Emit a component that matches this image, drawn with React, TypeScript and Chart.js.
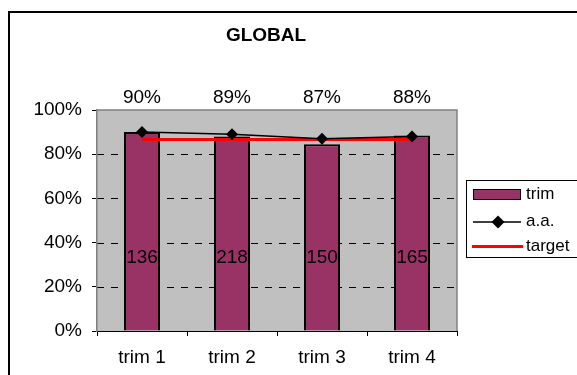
import React, { useEffect, useRef } from "react";
import { Chart, registerables } from "chart.js";

Chart.register(...registerables);

const categories = ["trim 1", "trim 2", "trim 3", "trim 4"];
const trimValues = [0.9, 0.88, 0.845, 0.885];
const aaValues = [0.9, 0.89, 0.87, 0.88];
const targetValues = [0.867, 0.867, 0.867, 0.867];
const counts = [136, 218, 150, 165];
const yTicks = [0, 0.2, 0.4, 0.6, 0.8, 1];
const title = "GLOBAL";
const FONT = "'Liberation Sans', Arial, sans-serif";
const BAR = "#993366";

const decor = {
  id: "decor",
  beforeDraw(chart: any) {
    const { ctx, chartArea: a } = chart;
    ctx.save();
    ctx.fillStyle = "#fff";
    ctx.fillRect(0, 0, chart.width, chart.height);
    ctx.strokeStyle = "#000";
    ctx.lineWidth = 2;
    ctx.strokeRect(9, 12, 700, 500);
    ctx.fillStyle = "#c0c0c0";
    ctx.fillRect(a.left, a.top, a.right - a.left, a.bottom - a.top);
    const y = chart.scales.y;
    ctx.strokeStyle = "#000";
    ctx.lineWidth = 1;
    ctx.setLineDash([7, 7]);
    yTicks.forEach((v) => {
      if (v <= 0 || v >= 1) return;
      const py = Math.round(y.getPixelForValue(v)) + 0.5;
      ctx.beginPath();
      ctx.moveTo(a.left, py);
      ctx.lineTo(a.right, py);
      ctx.stroke();
    });
    ctx.setLineDash([]);
    ctx.strokeStyle = "#808080";
    ctx.lineWidth = 1.5;
    ctx.beginPath();
    ctx.moveTo(a.left, a.top);
    ctx.lineTo(a.right, a.top);
    ctx.lineTo(a.right, a.bottom);
    ctx.stroke();
    ctx.restore();
  },
  afterDraw(chart: any) {
    const { ctx } = chart;
    const x = chart.scales.x;
    const y = chart.scales.y;
    ctx.save();
    ctx.fillStyle = "#000";
    ctx.textAlign = "center";
    ctx.textBaseline = "middle";
    ctx.font = `bold 19px ${FONT}`;
    ctx.fillText(title, 266, 36);
    ctx.font = `19px ${FONT}`;
    categories.forEach((c, i) => {
      const px = x.getPixelForValue(i);
      ctx.fillText(Math.round(aaValues[i] * 100) + "%", px, 98);
      ctx.fillText(String(counts[i]), px, y.getPixelForValue(0.33));
    });
    // legend
    const lx = 466, ly = 180, lw = 112, lh = 77;
    ctx.strokeStyle = "#000";
    ctx.lineWidth = 1;
    ctx.strokeRect(lx + 0.5, ly + 0.5, lw, lh);
    ctx.textAlign = "left";
    ctx.font = `17px ${FONT}`;
    // trim
    ctx.fillStyle = BAR;
    ctx.fillRect(473, 189, 47, 10);
    ctx.strokeRect(473.5, 189.5, 47, 10);
    ctx.fillStyle = "#000";
    ctx.fillText("trim", 526, 194);
    // a.a.
    ctx.lineWidth = 1.5;
    ctx.beginPath();
    ctx.moveTo(473, 222);
    ctx.lineTo(521, 222);
    ctx.stroke();
    ctx.beginPath();
    ctx.moveTo(498, 215.5);
    ctx.lineTo(504.5, 222);
    ctx.lineTo(498, 228.5);
    ctx.lineTo(491.5, 222);
    ctx.closePath();
    ctx.fill();
    ctx.fillText("a.a.", 526, 221);
    // target
    ctx.strokeStyle = "#ff0000";
    ctx.lineWidth = 3;
    ctx.beginPath();
    ctx.moveTo(472, 246.5);
    ctx.lineTo(523, 246.5);
    ctx.stroke();
    ctx.fillText("target", 526, 246);
    ctx.restore();
  },
};

export default function App() {
  const ref = useRef<HTMLCanvasElement>(null);
  useEffect(() => {
    const chart = new Chart(ref.current!, {
      type: "bar",
      data: {
        labels: categories,
        datasets: [
          {
            type: "bar",
            label: "trim",
            data: trimValues,
            backgroundColor: BAR,
            borderColor: "#000",
            borderWidth: 2,
            barPercentage: 0.4,
            categoryPercentage: 1,
            order: 2,
          } as any,
          {
            type: "line",
            label: "a.a.",
            data: aaValues,
            borderColor: "#000",
            backgroundColor: "#000",
            borderWidth: 1.5,
            pointStyle: "rectRot",
            pointRadius: 6,
            pointBorderWidth: 0,
            order: 0,
          },
          {
            type: "line",
            label: "target",
            data: targetValues,
            borderColor: "#ff0000",
            borderWidth: 3,
            pointRadius: 0,
            order: 1,
          },
        ],
      },
      options: {
        responsive: false,
        animation: false,
        devicePixelRatio: 1,
        layout: { padding: { left: 0, top: 110, right: 120, bottom: 0 } },
        plugins: { legend: { display: false }, title: { display: false }, tooltip: { enabled: false } },
        scales: {
          x: {
            afterFit: (s: any) => {
              s.height = 44;
            },
            grid: { offset: true, drawOnChartArea: false, drawTicks: true, tickLength: 5, tickColor: "#000", color: "#000" },
            border: { color: "#000", width: 1 },
            ticks: { color: "#000", font: { family: FONT, size: 19 }, padding: 10 },
          },
          y: {
            min: 0,
            max: 1,
            afterFit: (s: any) => {
              s.width = 97;
            },
            afterBuildTicks: (s: any) => {
              s.ticks = yTicks.map((v) => ({ value: v }));
            },
            grid: { drawOnChartArea: false, drawTicks: true, tickLength: 5, tickColor: "#000", color: "#000" },
            border: { color: "#808080", width: 1.5 },
            ticks: {
              color: "#000",
              font: { family: FONT, size: 19 },
              padding: 10,
              callback: (v: any) => Math.round(Number(v) * 100) + "%",
            },
          },
        },
      },
      plugins: [decor],
    });
    return () => chart.destroy();
  }, []);
  return (
    <div style={{ position: "fixed", left: 0, top: 0 }}>
      <canvas ref={ref} width={577} height={375} style={{ display: "block" }} />
    </div>
  );
}
